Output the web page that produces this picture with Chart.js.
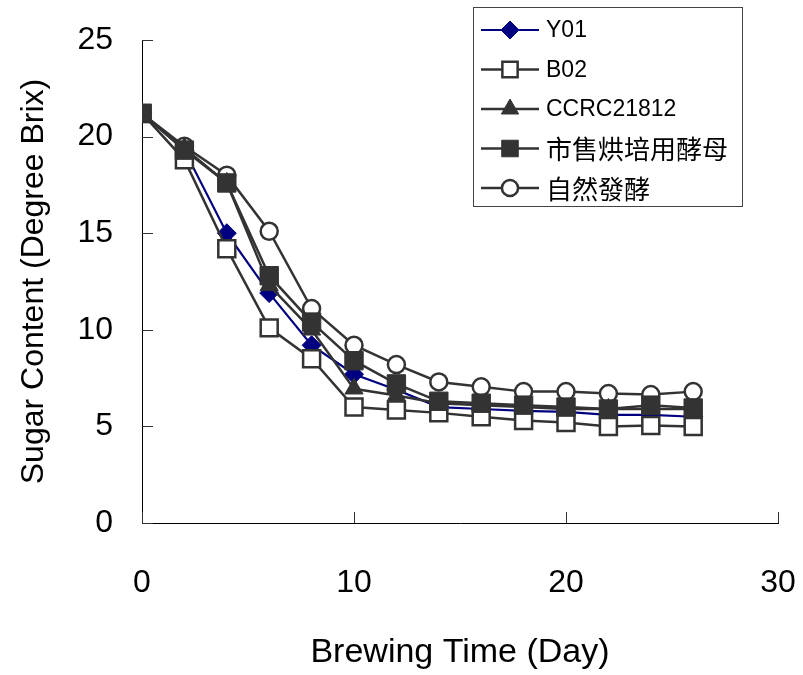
<!DOCTYPE html>
<html>
<head>
<meta charset="utf-8">
<script src="https://cdn.jsdelivr.net/npm/chart.js@4"></script>
<style>
  html, body { margin: 0; padding: 0; background: #fff; }
  #wrap { width: 803px; height: 675px; }
</style>
</head>
<body>
<div id="wrap"><canvas id="c" width="803" height="675"></canvas></div>
<script>
// ---- data ----
const days = [0, 2, 4, 6, 8, 10, 12, 14, 16, 18, 20, 22, 24, 26];
const seriesNames = ['Y01', 'B02', 'CCRC21812', '市售烘培用酵母', '自然發酵'];
const y01 = [21.2, 19.3, 15.0, 11.9, 9.2, 7.7, 6.9, 6.0, 5.9, 5.8, 5.75, 5.6, 5.6, 5.5];
const b02 = [21.2, 18.8, 14.2, 10.1, 8.5, 6.0, 5.85, 5.7, 5.5, 5.3, 5.2, 5.0, 5.05, 5.0];
const ccrc21812 = [21.2, 19.4, 17.6, 12.3, 10.0, 6.95, 6.6, 6.2, 6.1, 6.0, 5.9, 5.9, 5.9, 5.9];
const commercialYeast = [21.2, 19.3, 17.6, 12.8, 10.4, 8.4, 7.2, 6.3, 6.2, 6.1, 6.0, 5.9, 6.1, 5.95];
const naturalFerment = [21.2, 19.5, 18.0, 15.1, 11.1, 9.2, 8.2, 7.3, 7.05, 6.8, 6.8, 6.7, 6.65, 6.8];
const xTicks = [0, 10, 20, 30];
const yTicks = [0, 5, 10, 15, 20, 25];
const xTitle = 'Brewing Time (Day)';
const yTitle = 'Sugar Content (Degree Brix)';

const toPts = arr => days.map((d, i) => ({ x: d, y: arr[i] }));
const DARK = '#333333';
const NAVY = '#000080';

Chart.defaults.font.family = '"Liberation Sans", Arial, "Noto Sans CJK TC", sans-serif';
Chart.defaults.color = '#000';

const datasets = [
  { label: seriesNames[0], data: toPts(y01), borderColor: NAVY, borderWidth: 2.2,
    pointStyle: 'rectRot', pointRadius: 9.5, pointBackgroundColor: NAVY, pointBorderColor: NAVY, pointBorderWidth: 1, order: 3 },
  { label: seriesNames[1], data: toPts(b02), borderColor: DARK, borderWidth: 2.5,
    pointStyle: 'rect', pointRadius: 12, pointBackgroundColor: '#fff', pointBorderColor: DARK, pointBorderWidth: 2.5, order: 2 },
  { label: seriesNames[2], data: toPts(ccrc21812), borderColor: DARK, borderWidth: 2.5,
    pointStyle: 'triangle', pointRadius: 10.5, pointBackgroundColor: DARK, pointBorderColor: DARK, pointBorderWidth: 1, order: 1 },
  { label: seriesNames[3], data: toPts(commercialYeast), borderColor: DARK, borderWidth: 2.5,
    pointStyle: 'rect', pointRadius: 13, pointBackgroundColor: DARK, pointBorderColor: DARK, pointBorderWidth: 1, order: 0 },
  { label: seriesNames[4], data: toPts(naturalFerment), borderColor: DARK, borderWidth: 2.5,
    pointStyle: 'circle', pointRadius: 8.5, pointBackgroundColor: '#fff', pointBorderColor: DARK, pointBorderWidth: 2.5, order: 4 }
];
datasets.forEach(d => { d.tension = 0; d.fill = false; d.pointHoverRadius = d.pointRadius; });

// inward tick marks drawn from the scales
const inwardTicks = {
  id: 'inwardTicks',
  beforeDatasetsDraw(chart) {
    const { ctx, scales: { x, y }, chartArea } = chart;
    ctx.save();
    ctx.strokeStyle = DARK;
    ctx.lineWidth = 1;
    ctx.beginPath();
    y.ticks.forEach(t => {
      const py = Math.round(y.getPixelForValue(t.value)) + 0.5;
      ctx.moveTo(chartArea.left, py);
      ctx.lineTo(chartArea.left + 11, py);
    });
    x.ticks.forEach(t => {
      const px = Math.round(x.getPixelForValue(t.value)) + 0.5;
      ctx.moveTo(px, chartArea.bottom);
      ctx.lineTo(px, chartArea.bottom - 11);
    });
    ctx.stroke();
    ctx.restore();
  }
};

// boxed legend with line + marker samples
const boxLegend = {
  id: 'boxLegend',
  afterDraw(chart) {
    const ctx = chart.ctx;
    const box = { l: 473, t: 7, r: 742, b: 206 };
    ctx.save();
    ctx.fillStyle = '#fff';
    ctx.fillRect(box.l, box.t, box.r - box.l, box.b - box.t);
    ctx.strokeStyle = '#444';
    ctx.lineWidth = 1;
    ctx.strokeRect(box.l + 0.5, box.t + 0.5, box.r - box.l, box.b - box.t);
    chart.data.datasets.forEach((ds, i) => {
      const cy = 30 + i * 39.5;
      ctx.strokeStyle = ds.borderColor;
      ctx.lineWidth = ds.borderWidth;
      ctx.beginPath();
      ctx.moveTo(481, cy);
      ctx.lineTo(539, cy);
      ctx.stroke();
      ctx.fillStyle = ds.pointBackgroundColor;
      ctx.strokeStyle = ds.pointBorderColor;
      ctx.lineWidth = ds.pointBorderWidth;
      const r = ds.pointStyle === 'rect' ? ds.pointRadius * 0.9 : ds.pointRadius * 0.95;
      Chart.helpers.drawPoint(ctx, { pointStyle: ds.pointStyle, radius: r, rotation: 0, borderWidth: ds.pointBorderWidth }, 510, cy);
      const cjk = /[\u3400-\u9fff]/.test(ds.label);
      ctx.fillStyle = '#000';
      ctx.textBaseline = 'middle';
      ctx.textAlign = 'left';
      ctx.font = cjk ? '26px "Noto Sans CJK TC", "Liberation Sans", sans-serif'
                     : '23px "Liberation Sans", Arial, sans-serif';
      ctx.fillText(ds.label, 546, cy + 1);
    });
    ctx.restore();
  }
};

new Chart(document.getElementById('c'), {
  type: 'line',
  data: { datasets },
  plugins: [inwardTicks, boxLegend],
  options: {
    responsive: false,
    animation: false,
    events: [],
    layout: { padding: { left: 0, top: 40, right: 25, bottom: 0 } },
    plugins: { legend: { display: false }, tooltip: { enabled: false } },
    scales: {
      x: {
        type: 'linear', min: xTicks[0], max: xTicks[xTicks.length - 1],
        afterBuildTicks: s => { s.ticks = xTicks.map(v => ({ value: v })); },
        afterFit: s => { s.height = 152; s.paddingLeft = 0; s.paddingRight = 0; },
        grid: { display: false, drawTicks: false },
        border: { display: true, color: '#000', width: 1 },
        ticks: { padding: 41, font: { size: 32 }, color: '#000', maxRotation: 0 },
        title: { display: true, text: xTitle, font: { size: 34 }, color: '#000', padding: { top: 0, bottom: 2 } }
      },
      y: {
        type: 'linear', min: yTicks[0], max: yTicks[yTicks.length - 1],
        afterBuildTicks: s => { s.ticks = yTicks.map(v => ({ value: v })); },
        afterFit: s => { s.width = 142; s.paddingTop = 0; s.paddingBottom = 0; },
        grid: { display: false, drawTicks: false },
        border: { display: true, color: '#000', width: 1 },
        ticks: { padding: 29, font: { size: 32 }, color: '#000' },
        title: { display: true, text: yTitle, font: { size: 32 }, color: '#000', padding: { top: 15, bottom: 0 } }
      }
    }
  }
});
</script>
</body>
</html>
